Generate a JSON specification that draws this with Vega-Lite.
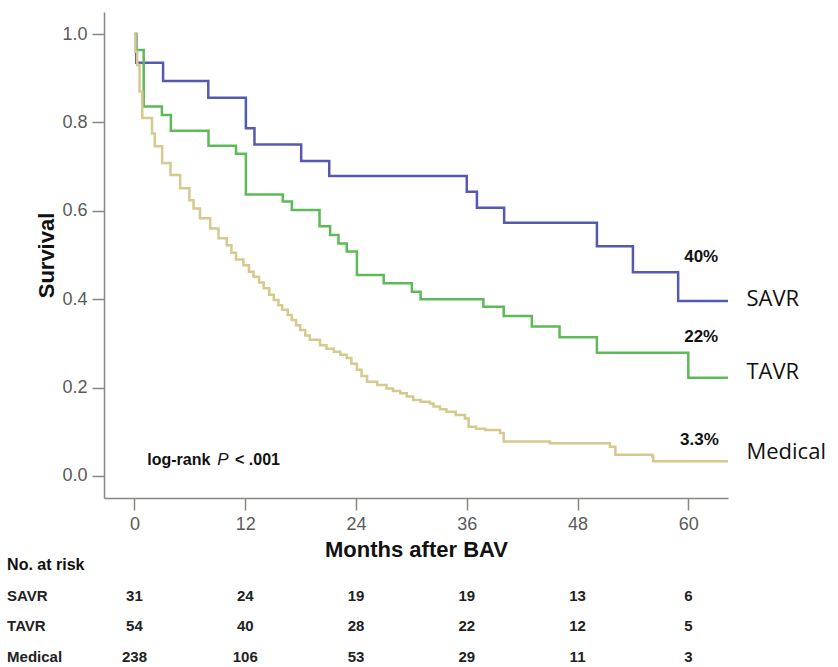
{
  "$schema": "https://vega.github.io/schema/vega-lite/v6.json",
  "width": 624,
  "height": 486,
  "autosize": {"type": "none"},
  "padding": {"left": 104, "top": 12, "right": 110, "bottom": 169},
  "background": "#ffffff",
  "config": {
    "view": {"stroke": null},
    "axis": {
      "grid": false,
      "domainColor": "#8a8682",
      "domainWidth": 1.5,
      "tickColor": "#8a8682",
      "tickWidth": 1.5,
      "tickSize": 12,
      "labelFont": "Liberation Sans Narrow, Liberation Sans",
      "labelFontSize": 18,
      "labelColor": "#5a5a5a",
      "labelPadding": 5,
      "titleFont": "Liberation Sans",
      "titleFontSize": 22,
      "titleFontWeight": "bold",
      "titleColor": "#111111"
    }
  },
  "datasets": {
    "curves": [
      {"group": "SAVR", "month": 0, "surv": 1.0},
      {"group": "SAVR", "month": 0.2, "surv": 0.935},
      {"group": "SAVR", "month": 3.1, "surv": 0.894},
      {"group": "SAVR", "month": 8.0, "surv": 0.856},
      {"group": "SAVR", "month": 12.07, "surv": 0.787},
      {"group": "SAVR", "month": 13.0, "surv": 0.75},
      {"group": "SAVR", "month": 18.06, "surv": 0.713},
      {"group": "SAVR", "month": 21.1, "surv": 0.679},
      {"group": "SAVR", "month": 36.0, "surv": 0.643},
      {"group": "SAVR", "month": 37.1, "surv": 0.607},
      {"group": "SAVR", "month": 40.05, "surv": 0.573},
      {"group": "SAVR", "month": 50.1, "surv": 0.52},
      {"group": "SAVR", "month": 54.0, "surv": 0.461},
      {"group": "SAVR", "month": 58.9, "surv": 0.396},
      {"group": "SAVR", "month": 64.3, "surv": 0.396},
      {"group": "TAVR", "month": 0, "surv": 1.0},
      {"group": "TAVR", "month": 0.15, "surv": 0.964},
      {"group": "TAVR", "month": 1.0, "surv": 0.836},
      {"group": "TAVR", "month": 2.97, "surv": 0.817},
      {"group": "TAVR", "month": 3.94, "surv": 0.781},
      {"group": "TAVR", "month": 8.02, "surv": 0.747},
      {"group": "TAVR", "month": 11.0, "surv": 0.729},
      {"group": "TAVR", "month": 12.07, "surv": 0.637},
      {"group": "TAVR", "month": 16.07, "surv": 0.621},
      {"group": "TAVR", "month": 17.05, "surv": 0.602},
      {"group": "TAVR", "month": 20.05, "surv": 0.565},
      {"group": "TAVR", "month": 21.2, "surv": 0.545},
      {"group": "TAVR", "month": 22.1, "surv": 0.526},
      {"group": "TAVR", "month": 23.0, "surv": 0.508},
      {"group": "TAVR", "month": 24.1, "surv": 0.455},
      {"group": "TAVR", "month": 27.0, "surv": 0.436},
      {"group": "TAVR", "month": 30.05, "surv": 0.417},
      {"group": "TAVR", "month": 31.0, "surv": 0.4},
      {"group": "TAVR", "month": 37.8, "surv": 0.383},
      {"group": "TAVR", "month": 40.0, "surv": 0.362},
      {"group": "TAVR", "month": 43.05, "surv": 0.338},
      {"group": "TAVR", "month": 46.05, "surv": 0.314},
      {"group": "TAVR", "month": 50.1, "surv": 0.279},
      {"group": "TAVR", "month": 60.0, "surv": 0.222},
      {"group": "TAVR", "month": 64.3, "surv": 0.222},
      {"group": "Medical", "month": 0, "surv": 1.0},
      {"group": "Medical", "month": 0.1, "surv": 0.96},
      {"group": "Medical", "month": 0.3, "surv": 0.93},
      {"group": "Medical", "month": 0.55, "surv": 0.87},
      {"group": "Medical", "month": 0.85, "surv": 0.81},
      {"group": "Medical", "month": 1.9, "surv": 0.775},
      {"group": "Medical", "month": 2.2, "surv": 0.746},
      {"group": "Medical", "month": 3.0, "surv": 0.708},
      {"group": "Medical", "month": 3.9, "surv": 0.681},
      {"group": "Medical", "month": 4.95, "surv": 0.651},
      {"group": "Medical", "month": 5.95, "surv": 0.624},
      {"group": "Medical", "month": 6.4, "surv": 0.605},
      {"group": "Medical", "month": 7.1, "surv": 0.583},
      {"group": "Medical", "month": 8.2, "surv": 0.56},
      {"group": "Medical", "month": 9.1, "surv": 0.538},
      {"group": "Medical", "month": 10.0, "surv": 0.522},
      {"group": "Medical", "month": 10.5, "surv": 0.505},
      {"group": "Medical", "month": 11.0, "surv": 0.49},
      {"group": "Medical", "month": 11.8, "surv": 0.477},
      {"group": "Medical", "month": 12.4, "surv": 0.462},
      {"group": "Medical", "month": 12.9, "surv": 0.451},
      {"group": "Medical", "month": 13.5, "surv": 0.438},
      {"group": "Medical", "month": 14.0, "surv": 0.425},
      {"group": "Medical", "month": 14.6, "surv": 0.41},
      {"group": "Medical", "month": 15.1, "surv": 0.398},
      {"group": "Medical", "month": 15.6, "surv": 0.386},
      {"group": "Medical", "month": 16.0, "surv": 0.376},
      {"group": "Medical", "month": 16.6, "surv": 0.364},
      {"group": "Medical", "month": 17.05, "surv": 0.353},
      {"group": "Medical", "month": 17.5, "surv": 0.341},
      {"group": "Medical", "month": 17.95, "surv": 0.33},
      {"group": "Medical", "month": 18.5, "surv": 0.318},
      {"group": "Medical", "month": 19.0, "surv": 0.308},
      {"group": "Medical", "month": 20.1, "surv": 0.296},
      {"group": "Medical", "month": 20.8, "surv": 0.288},
      {"group": "Medical", "month": 21.6, "surv": 0.281},
      {"group": "Medical", "month": 22.3, "surv": 0.274},
      {"group": "Medical", "month": 23.0, "surv": 0.267},
      {"group": "Medical", "month": 23.5, "surv": 0.254},
      {"group": "Medical", "month": 24.1, "surv": 0.24},
      {"group": "Medical", "month": 24.6, "surv": 0.226},
      {"group": "Medical", "month": 25.2, "surv": 0.213},
      {"group": "Medical", "month": 26.3, "surv": 0.206},
      {"group": "Medical", "month": 27.3, "surv": 0.198},
      {"group": "Medical", "month": 28.0, "surv": 0.192},
      {"group": "Medical", "month": 28.8, "surv": 0.187},
      {"group": "Medical", "month": 29.5, "surv": 0.18},
      {"group": "Medical", "month": 30.2, "surv": 0.172},
      {"group": "Medical", "month": 31.0, "surv": 0.168},
      {"group": "Medical", "month": 32.0, "surv": 0.164},
      {"group": "Medical", "month": 32.4, "surv": 0.157},
      {"group": "Medical", "month": 33.1, "surv": 0.151},
      {"group": "Medical", "month": 33.8, "surv": 0.145},
      {"group": "Medical", "month": 34.8, "surv": 0.138},
      {"group": "Medical", "month": 35.8, "surv": 0.13},
      {"group": "Medical", "month": 36.2, "surv": 0.111},
      {"group": "Medical", "month": 37.0, "surv": 0.107},
      {"group": "Medical", "month": 38.0, "surv": 0.104},
      {"group": "Medical", "month": 39.6, "surv": 0.097},
      {"group": "Medical", "month": 40.0, "surv": 0.078},
      {"group": "Medical", "month": 45.0, "surv": 0.074},
      {"group": "Medical", "month": 51.5, "surv": 0.066},
      {"group": "Medical", "month": 52.1, "surv": 0.048},
      {"group": "Medical", "month": 56.1, "surv": 0.044},
      {"group": "Medical", "month": 56.2, "surv": 0.033},
      {"group": "Medical", "month": 64.3, "surv": 0.033}
    ],
    "risk": [
      {"group": "SAVR", "month": 0, "n": 31},
      {"group": "SAVR", "month": 12, "n": 24},
      {"group": "SAVR", "month": 24, "n": 19},
      {"group": "SAVR", "month": 36, "n": 19},
      {"group": "SAVR", "month": 48, "n": 13},
      {"group": "SAVR", "month": 60, "n": 6},
      {"group": "TAVR", "month": 0, "n": 54},
      {"group": "TAVR", "month": 12, "n": 40},
      {"group": "TAVR", "month": 24, "n": 28},
      {"group": "TAVR", "month": 36, "n": 22},
      {"group": "TAVR", "month": 48, "n": 12},
      {"group": "TAVR", "month": 60, "n": 5},
      {"group": "Medical", "month": 0, "n": 238},
      {"group": "Medical", "month": 12, "n": 106},
      {"group": "Medical", "month": 24, "n": 53},
      {"group": "Medical", "month": 36, "n": 29},
      {"group": "Medical", "month": 48, "n": 11},
      {"group": "Medical", "month": 60, "n": 3}
    ],
    "rowlabels": [
      {"group": "SAVR"},
      {"group": "TAVR"},
      {"group": "Medical"}
    ]
  },
  "resolve": {"scale": {"y": "independent"}},
  "layer": [
    {
      "layer": [
        {
          "data": {"name": "curves"},
          "mark": {"type": "line", "interpolate": "step-after", "strokeWidth": 2.5},
          "encoding": {
            "x": {
              "field": "month", "type": "quantitative",
              "scale": {"domain": [-3.3, 64.3], "nice": false, "zero": false},
              "axis": {"values": [0, 12, 24, 36, 48, 60], "title": "Months after BAV", "titlePadding": 6}
            },
            "y": {
              "field": "surv", "type": "quantitative",
              "scale": {"domain": [-0.05, 1.05], "nice": false, "zero": false},
              "axis": {"values": [0, 0.2, 0.4, 0.6, 0.8, 1.0], "format": ".1f", "title": "Survival", "titlePadding": 3}
            },
            "color": {
              "field": "group", "type": "nominal",
              "scale": {"domain": ["SAVR", "TAVR", "Medical"], "range": ["#5559b0", "#5cbb56", "#d3ca8e"]},
              "legend": null
            },
            "order": {"field": "month", "type": "quantitative"}
          }
        },
        {
          "data": {"values": [{"t": "SAVR"}]},
          "mark": {"type": "text", "align": "left", "baseline": "middle", "font": "Open Sans", "fontSize": 22, "color": "#111111"},
          "encoding": {"x": {"datum": 66.3}, "y": {"datum": 0.4}, "text": {"field": "t"}}
        },
        {
          "data": {"values": [{"t": "TAVR"}]},
          "mark": {"type": "text", "align": "left", "baseline": "middle", "font": "Open Sans", "fontSize": 22, "color": "#111111"},
          "encoding": {"x": {"datum": 66.3}, "y": {"datum": 0.235}, "text": {"field": "t"}}
        },
        {
          "data": {"values": [{"t": "Medical"}]},
          "mark": {"type": "text", "align": "left", "baseline": "middle", "font": "Open Sans", "fontSize": 22, "color": "#111111"},
          "encoding": {"x": {"datum": 66.3}, "y": {"datum": 0.054}, "text": {"field": "t"}}
        },
        {
          "data": {"values": [{"t": "40%"}]},
          "mark": {"type": "text", "align": "center", "baseline": "middle", "font": "Liberation Sans", "fontWeight": "bold", "fontSize": 17, "color": "#111111"},
          "encoding": {"x": {"datum": 61.4}, "y": {"datum": 0.495}, "text": {"field": "t"}}
        },
        {
          "data": {"values": [{"t": "22%"}]},
          "mark": {"type": "text", "align": "center", "baseline": "middle", "font": "Liberation Sans", "fontWeight": "bold", "fontSize": 17, "color": "#111111"},
          "encoding": {"x": {"datum": 61.4}, "y": {"datum": 0.314}, "text": {"field": "t"}}
        },
        {
          "data": {"values": [{"t": "3.3%"}]},
          "mark": {"type": "text", "align": "center", "baseline": "middle", "font": "Liberation Sans", "fontWeight": "bold", "fontSize": 17, "color": "#111111"},
          "encoding": {"x": {"datum": 61.2}, "y": {"datum": 0.081}, "text": {"field": "t"}}
        },
        {
          "data": {"values": [{"t": "log-rank"}]},
          "mark": {"type": "text", "align": "left", "baseline": "middle", "font": "Liberation Sans", "fontWeight": "bold", "fontSize": 16, "color": "#111111"},
          "encoding": {"x": {"datum": 1.38}, "y": {"datum": 0.036}, "text": {"field": "t"}}
        },
        {
          "data": {"values": [{"t": "P"}]},
          "mark": {"type": "text", "align": "left", "baseline": "middle", "font": "Liberation Sans", "fontStyle": "italic", "fontSize": 17, "color": "#111111"},
          "encoding": {"x": {"datum": 8.96}, "y": {"datum": 0.036}, "text": {"field": "t"}}
        },
        {
          "data": {"values": [{"t": "< .001"}]},
          "mark": {"type": "text", "align": "left", "baseline": "middle", "font": "Liberation Sans", "fontWeight": "bold", "fontSize": 16, "color": "#111111"},
          "encoding": {"x": {"datum": 10.9}, "y": {"datum": 0.036}, "text": {"field": "t"}}
        }
      ]
    },
    {
      "layer": [
        {
          "data": {"name": "risk"},
          "mark": {"type": "text", "align": "center", "baseline": "middle", "font": "Liberation Sans Narrow, Liberation Sans", "fontWeight": "bold", "fontSize": 15, "color": "#222222"},
          "encoding": {
            "x": {"field": "month", "type": "quantitative"},
            "y": {
              "field": "group", "type": "nominal",
              "scale": {"type": "point", "domain": ["No. at risk", "SAVR", "TAVR", "Medical"], "range": [553, 645], "padding": 0},
              "axis": null
            },
            "text": {"field": "n", "type": "quantitative"}
          }
        },
        {
          "data": {"name": "rowlabels"},
          "mark": {"type": "text", "align": "left", "baseline": "middle", "font": "Liberation Sans Narrow, Liberation Sans", "fontWeight": "bold", "fontSize": 15, "color": "#222222"},
          "encoding": {
            "x": {"datum": -13.8},
            "y": {"field": "group", "type": "nominal"},
            "text": {"field": "group"}
          }
        },
        {
          "data": {"values": [{"group": "No. at risk"}]},
          "mark": {"type": "text", "align": "left", "baseline": "middle", "font": "Liberation Sans", "fontWeight": "bold", "fontSize": 16, "color": "#111111"},
          "encoding": {
            "x": {"datum": -13.8},
            "y": {"field": "group", "type": "nominal"},
            "text": {"field": "group"}
          }
        }
      ]
    }
  ]
}
